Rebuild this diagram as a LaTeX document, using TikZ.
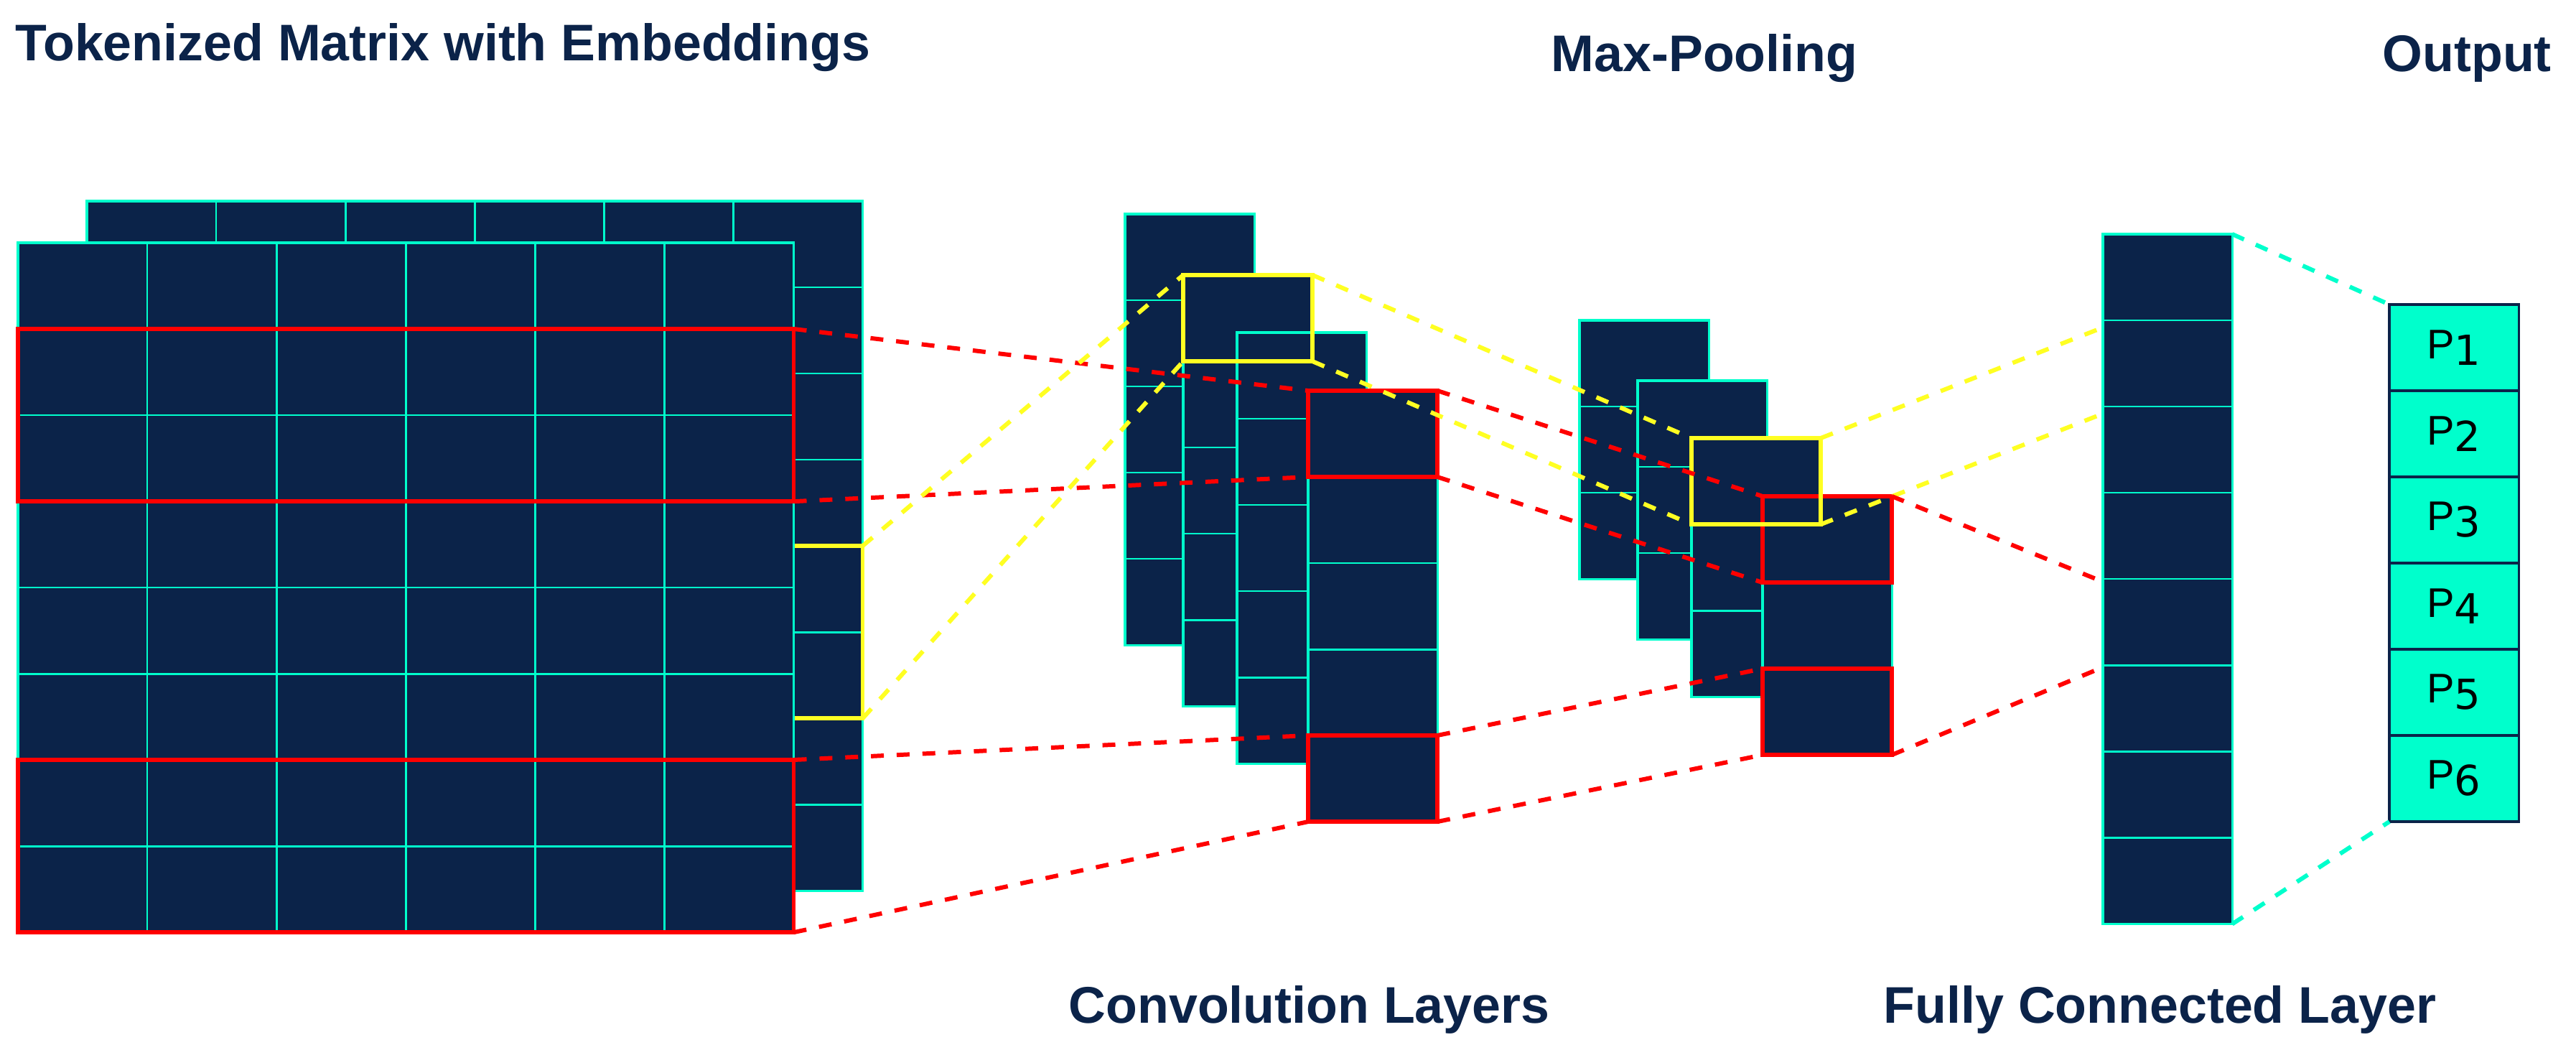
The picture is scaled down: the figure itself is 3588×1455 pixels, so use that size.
\documentclass[tikz,border=0pt]{standalone}
\usepackage{fontspec}
\setmainfont{Liberation Sans}
\newfontfamily\digitfont{DejaVu Sans}
\definecolor{navy}{HTML}{0B2349}
\definecolor{aqua}{HTML}{00FFCC}
\definecolor{hlred}{HTML}{FF0000}
\definecolor{hlyellow}{HTML}{FFFF22}
\tikzset{
  layer/.style={draw=aqua, fill=navy, line width=0.9pt, rectangle, inner sep=0pt, outer sep=0pt, anchor=north west},
  gridline/.style={draw=aqua, line width=0.85pt},
  redbox/.style={draw=hlred, line width=1.6pt, rectangle, inner sep=0pt, outer sep=0pt, anchor=north west, minimum width=1.8cm, minimum height=1.2cm},
  yellowbox/.style={draw=hlyellow, line width=1.6pt, rectangle, inner sep=0pt, outer sep=0pt, anchor=north west, minimum width=1.8cm, minimum height=1.2cm},
  reddash/.style={draw=hlred, line width=1.7pt, dash pattern=on 5.1pt off 5.1pt},
  yellowdash/.style={draw=hlyellow, line width=1.7pt, dash pattern=on 5.1pt off 5.1pt},
  aquadash/.style={draw=aqua, line width=1.7pt, dash pattern=on 5.1pt off 5.1pt},
  title/.style={anchor=base west, inner sep=0pt, text=navy, font=\bfseries\fontsize{20.4}{24}\selectfont},
  outcell/.style={draw=navy, fill=aqua, line width=0.9pt, rectangle, inner sep=0pt, outer sep=0pt, minimum width=1.8cm, minimum height=1.2cm},
  plabel/.style={inner sep=0pt, text=black, font=\fontsize{16.4}{19}\selectfont}
}
% #1 name, #2 x, #3 y (top-left, px), #4 columns, #5 rows; cell 180 x 120 px
\newcommand{\cnnlayer}[5]{%
  \node[layer, minimum width=#4*1.8cm, minimum height=#5*1.2cm] (#1) at (#2,#3) {};
  \pgfmathtruncatemacro{\cnnnr}{#5-1}%
  \foreach \k in {1,...,\cnnnr}{\draw[gridline] (#2,#3+120*\k) -- (#2+180*#4,#3+120*\k);}%
  \ifnum#4>1
    \pgfmathtruncatemacro{\cnnnc}{#4-1}%
    \foreach \k in {1,...,\cnnnc}{\draw[gridline] (#2+180*\k,#3) -- (#2+180*\k,#3+120*#5);}%
  \fi
}
\newcommand{\plab}[1]{P\raisebox{-0.09cm}{\digitfont #1}}
\begin{document}
\begin{tikzpicture}[x=0.01cm, y=-0.01cm]
\fill[white] (0,0) rectangle (3588,1455);
\useasboundingbox (0,0) rectangle (3588,1455);

% titles
\node[title] (t1) at (21,85) {Tokenized Matrix with Embeddings};
\node[title] (t2) at (2160,100) {Max-Pooling};
\node[title] (t3) at (3318,100) {Output};
\node[title] (t4) at (1488,1424) {Convolution Layers};
\node[title] (t5) at (2623,1424) {Fully Connected Layer};

% embedding matrix
\cnnlayer{mb}{121}{280}{6}{8}
\node[yellowbox, minimum width=10.8cm, minimum height=2.4cm] (my) at (121,760) {};
\cnnlayer{mf}{25}{338}{6}{8}
\node[redbox, minimum width=10.8cm, minimum height=2.4cm] (mr1) at (25,458) {};
\node[redbox, minimum width=10.8cm, minimum height=2.4cm] (mr2) at (25,1058) {};

% convolution layers
\cnnlayer{c1}{1567}{298}{1}{5}
\cnnlayer{c2}{1648}{383}{1}{5}
\cnnlayer{c3}{1723}{463}{1}{5}
\node[yellowbox] (cy) at (1648,383) {};
\cnnlayer{c4}{1822}{544}{1}{5}
\node[redbox] (cr1) at (1822,544) {};
\node[redbox] (cr2) at (1822,1024) {};

% max-pooling layers
\cnnlayer{p1}{2200}{446}{1}{3}
\cnnlayer{p2}{2281}{530}{1}{3}
\cnnlayer{p3}{2356}{610}{1}{3}
\cnnlayer{p4}{2455}{691}{1}{3}
\node[redbox] (pr1) at (2455,691) {};
\node[redbox] (pr2) at (2455,931) {};
\node[yellowbox] (py) at (2356,610) {};

% fully connected layer
\cnnlayer{fc}{2929}{326}{1}{8}
\coordinate (fy1) at (2929,456);
\coordinate (fy2) at (2929,576);
\coordinate (fr1) at (2929,810);
\coordinate (fr2) at (2929,929);

% output
\foreach \i in {1,...,6}{
  \node[outcell] (o\i) at (3418,364+120*\i) {};
  \node[plabel] (ol\i) at (o\i.center) {\plab{\i}};
}
\coordinate (onw) at (o1.north west);
\coordinate (osw) at (o6.south west);

% connectors
\draw[reddash] (mr1.north east) -- (cr1.north west);
\draw[reddash] (mr1.south east) -- (cr1.south west);
\draw[reddash] (mr2.north east) -- (cr2.north west);
\draw[reddash] (mr2.south east) -- (cr2.south west);
\draw[yellowdash] (my.north east) -- (cy.north west);
\draw[yellowdash] (my.south east) -- (cy.south west);
\draw[yellowdash] (cy.north east) -- (py.north west);
\draw[yellowdash] (cy.south east) -- (py.south west);
\draw[reddash] (cr1.north east) -- (pr1.north west);
\draw[reddash] (cr1.south east) -- (pr1.south west);
\draw[reddash] (cr2.north east) -- (pr2.north west);
\draw[reddash] (cr2.south east) -- (pr2.south west);
\draw[yellowdash] (py.north east) -- (fy1);
\draw[yellowdash] (py.south east) -- (fy2);
\draw[reddash] (pr1.north east) -- (fr1);
\draw[reddash] (pr2.south east) -- (fr2);
\draw[aquadash] (fc.north east) -- (onw);
\draw[aquadash] (fc.south east) -- (osw);
\end{tikzpicture}
\end{document}
